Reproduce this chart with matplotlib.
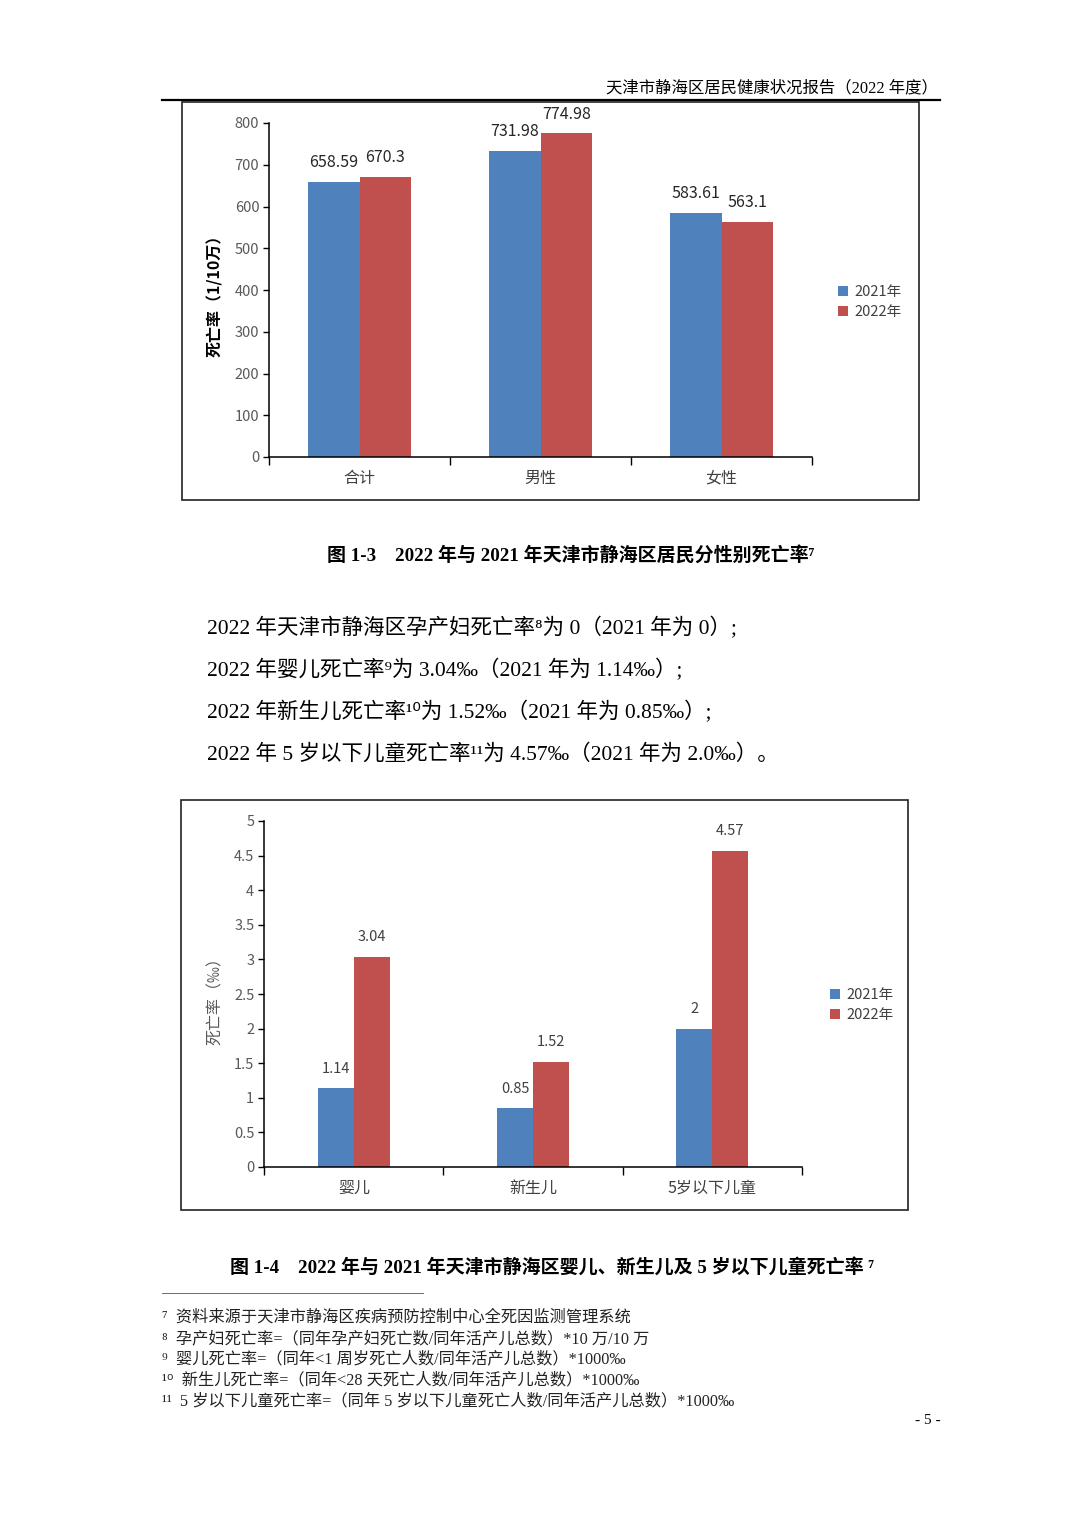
import matplotlib
matplotlib.use("Agg")
import matplotlib.pyplot as plt
from matplotlib.lines import Line2D
from matplotlib.patches import Rectangle

plt.rcParams['font.family'] = ['Noto Sans CJK SC', 'DejaVu Sans']

SERIF = ['Liberation Serif', 'Noto Sans CJK SC', 'DejaVu Sans']
BLUE = "#4F81BD"
RED = "#C0504D"

# ---- data -------------------------------------------------------------
years = ['2021年', '2022年']

sex_cats = ['合计', '男性', '女性']
sex_2021 = [658.59, 731.98, 583.61]
sex_2022 = [670.3, 774.98, 563.1]

child_cats = ['婴儿', '新生儿', '5岁以下儿童']
child_2021 = [1.14, 0.85, 2]
child_2022 = [3.04, 1.52, 4.57]

body_lines = [
    '2022 年天津市静海区孕产妇死亡率⁸为 0（2021 年为 0）;',
    '2022 年婴儿死亡率⁹为 3.04‰（2021 年为 1.14‰）;',
    '2022 年新生儿死亡率¹⁰为 1.52‰（2021 年为 0.85‰）;',
    '2022 年 5 岁以下儿童死亡率¹¹为 4.57‰（2021 年为 2.0‰）。',
]
footnotes = [
    '⁷  资料来源于天津市静海区疾病预防控制中心全死因监测管理系统',
    '⁸  孕产妇死亡率=（同年孕产妇死亡数/同年活产儿总数）*10 万/10 万',
    '⁹  婴儿死亡率=（同年<1 周岁死亡人数/同年活产儿总数）*1000‰',
    '¹⁰  新生儿死亡率=（同年<28 天死亡人数/同年活产儿总数）*1000‰',
    '¹¹  5 岁以下儿童死亡率=（同年 5 岁以下儿童死亡人数/同年活产儿总数）*1000‰',
]

W, H = 1074, 1520


def fx(x):
    return x / W


def fy(y):
    return 1 - y / H


def bar_chart(ax, cats, v21, v22, width, ymax, ystep, label_color, label_size):
    xs = list(range(len(cats)))
    b1 = ax.bar([x - width / 2 for x in xs], v21, width, color=BLUE, label=years[0])
    b2 = ax.bar([x + width / 2 for x in xs], v22, width, color=RED, label=years[1])
    for bars, vals in ((b1, v21), (b2, v22)):
        for b, v in zip(bars, vals):
            ax.annotate(f"{v:g}", (b.get_x() + b.get_width() / 2, v),
                        xytext=(0, 14), textcoords="offset points",
                        ha="center", va="center", fontsize=label_size,
                        color=label_color)
    ax.set_xlim(-0.5, len(cats) - 0.5)
    ax.set_ylim(0, ymax)
    ticks = []
    t = 0
    while t <= ymax + 1e-9:
        ticks.append(t)
        t += ystep
    ax.set_yticks(ticks)
    ax.set_yticklabels([f"{t:g}" for t in ticks])
    ax.set_xticks([x - 0.5 for x in range(len(cats) + 1)])
    ax.set_xticklabels([])
    ax.set_xticks(xs, minor=True)
    ax.set_xticklabels(cats, minor=True)
    ax.tick_params(axis='x', which='major', direction='out', length=6, width=1)
    ax.tick_params(axis='x', which='minor', length=0, pad=9,
                   labelsize=11.5, labelcolor='#404040')
    ax.tick_params(axis='y', direction='out', length=4, width=1, pad=3,
                   labelsize=10.5, labelcolor='#595959')
    for s in ('top', 'right'):
        ax.spines[s].set_visible(False)
    for s in ('left', 'bottom'):
        ax.spines[s].set_linewidth(1.1)
        ax.spines[s].set_color('black')


fig = plt.figure(figsize=(W / 100, H / 100), dpi=100)

# header
fig.text(fx(938), fy(88), '天津市静海区居民健康状况报告（2022 年度）',
         ha='right', va='center', fontsize=11.8, family=SERIF)
fig.add_artist(Line2D([fx(162), fx(940)], [fy(100), fy(100)],
                      lw=1.6, color='black'))

# ---- chart 1 ----------------------------------------------------------
fig.add_artist(Rectangle((fx(182), fy(500)), (919 - 182) / W, (500 - 102) / H,
                         fill=False, lw=1.2, edgecolor='#222222',
                         transform=fig.transFigure))
ax1 = fig.add_axes([fx(269), fy(457), (812 - 269) / W, (457 - 123) / H])
bar_chart(ax1, sex_cats, sex_2021, sex_2022, 0.287, 800, 100, '#262626', 11.5)
fig.text(fx(215), fy(292), '死亡率（1/10万）', rotation=90, ha='center',
         va='center', fontsize=11.5, fontweight='bold')
fig.legend(handles=ax1.get_legend_handles_labels()[0], labels=years,
           loc='center left', bbox_to_anchor=(fx(825), fy(302)),
           frameon=False, fontsize=10.5, labelcolor='#404040',
           handlelength=0.7, handleheight=0.7, handletextpad=0.4,
           labelspacing=0.45)

fig.text(fx(571), fy(556), '图 1-3    2022 年与 2021 年天津市静海区居民分性别死亡率⁷',
         ha='center', va='center', fontsize=13.7, fontweight='bold', family=SERIF)

for i, line in enumerate(body_lines):
    fig.text(fx(207), fy(628 + i * 42), line, ha='left', va='center',
             fontsize=15.5, family=SERIF)

# ---- chart 2 ----------------------------------------------------------
fig.add_artist(Rectangle((fx(181), fy(1210)), (908 - 181) / W, (1210 - 800) / H,
                         fill=False, lw=1.2, edgecolor='#222222',
                         transform=fig.transFigure))
ax2 = fig.add_axes([fx(264), fy(1167), (802 - 264) / W, (1167 - 821) / H])
bar_chart(ax2, child_cats, child_2021, child_2022, 0.2, 5, 0.5, '#404040', 10.5)
fig.text(fx(215), fy(997), '死亡率（‰）', rotation=90, ha='center',
         va='center', fontsize=11.5, color='#595959')
fig.legend(handles=ax2.get_legend_handles_labels()[0], labels=years,
           loc='center left', bbox_to_anchor=(fx(817), fy(1005)),
           frameon=False, fontsize=10.5, labelcolor='#404040',
           handlelength=0.7, handleheight=0.7, handletextpad=0.4,
           labelspacing=0.45)

fig.text(fx(552), fy(1267),
         '图 1-4    2022 年与 2021 年天津市静海区婴儿、新生儿及 5 岁以下儿童死亡率 ⁷',
         ha='center', va='center', fontsize=13.7, fontweight='bold', family=SERIF)

# footnotes
fig.add_artist(Line2D([fx(162), fx(423)], [fy(1293), fy(1293)],
                      lw=0.6, color='#555555'))
for i, note in enumerate(footnotes):
    fig.text(fx(162), fy(1318 + i * 20.8), note, ha='left', va='center',
             fontsize=11.7, family=SERIF, color='#222222')

fig.text(fx(928), fy(1421), '- 5 -', ha='center', va='center',
         fontsize=11, family=SERIF)

fig.savefig('out.png', dpi=100)
